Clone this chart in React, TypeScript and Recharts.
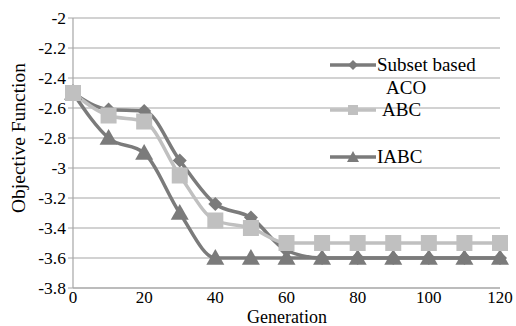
import React from "react";
import {
	LineChart,
	Line,
	XAxis,
	YAxis,
	CartesianGrid,
} from "recharts";

const generations = [0, 10, 20, 30, 40, 50, 60, 70, 80, 90, 100, 110, 120];
const subsetAco = [-2.5, -2.61, -2.62, -2.95, -3.24, -3.33, -3.55, -3.6, -3.6, -3.6, -3.6, -3.6, -3.6];
const abc = [-2.5, -2.65, -2.69, -3.05, -3.35, -3.4, -3.5, -3.5, -3.5, -3.5, -3.5, -3.5, -3.5];
const iabc = [-2.5, -2.8, -2.9, -3.3, -3.6, -3.6, -3.6, -3.6, -3.6, -3.6, -3.6, -3.6, -3.6];
const yTicks = [-3.8, -3.6, -3.4, -3.2, -3, -2.8, -2.6, -2.4, -2.2, -2];
const xTicks = [0, 20, 40, 60, 80, 100, 120];

const data = generations.map((g, i) => ({
	gen: g,
	aco: subsetAco[i],
	abc: abc[i],
	iabc: iabc[i],
}));

const DARK = "#7b7b7b";
const LIGHT = "#c0c0c0";
const FONT = "Liberation Serif, Times New Roman, serif";

const Diamond = (props: any) => {
	const { cx, cy } = props;
	if (cx == null || cy == null) return null;
	const r = 7;
	return (
		<polygon
			key={`d-${cx}`}
			points={`${cx},${cy - r} ${cx + r},${cy} ${cx},${cy + r} ${cx - r},${cy}`}
			fill={DARK}
		/>
	);
};

const Square = (props: any) => {
	const { cx, cy } = props;
	if (cx == null || cy == null) return null;
	const s = 8;
	return <rect key={`s-${cx}`} x={cx - s} y={cy - s} width={s * 2} height={s * 2} fill={LIGHT} />;
};

const Triangle = (props: any) => {
	const { cx, cy } = props;
	if (cx == null || cy == null) return null;
	const r = 9;
	return (
		<polygon
			key={`t-${cx}`}
			points={`${cx},${cy - r} ${cx + r},${cy + r * 0.75} ${cx - r},${cy + r * 0.75}`}
			fill={DARK}
		/>
	);
};

// legend drawn over the plot, like the excel one
const legendItems = [
	{ label: "Subset based", color: DARK, shape: "diamond", top: 55 },
	{ label: "ABC", color: LIGHT, shape: "square", top: 100 },
	{ label: "IABC", color: DARK, shape: "triangle", top: 147 },
];

const LegendBox = () => (
	<div style={{ position: "absolute", left: 0, top: 0, fontFamily: FONT, fontSize: 19, color: "#000", lineHeight: "20px" }}>
		{legendItems.map((it, i) => (
			<div key={i} style={{ position: "absolute", left: 330, top: it.top, display: "flex", alignItems: "center", whiteSpace: "nowrap" }}>
				<svg width={46} height={12}>
					<line x1={0} y1={6} x2={46} y2={6} stroke={it.color} strokeWidth={3.5} />
					{it.shape === "diamond" && <polygon points="23,1 28,6 23,11 18,6" fill={it.color} />}
					{it.shape === "square" && <rect x={18} y={1} width={10} height={10} fill={it.color} />}
					{it.shape === "triangle" && <polygon points="23,0 29,11 17,11" fill={it.color} />}
				</svg>
				<span style={{ marginLeft: i === 1 ? 6 : 1 }}>{it.label}</span>
			</div>
		))}
		<div style={{ position: "absolute", left: 386, top: 78 }}>ACO</div>
	</div>
);

const YLabel = () => (
	<text
		x={18}
		y={138}
		transform="rotate(-90 18 138)"
		textAnchor="middle"
		dominantBaseline="central"
		fill="#000"
		fontFamily={FONT}
		fontSize={19.5}>
		Objective Function
	</text>
);

const XLabel = () => (
	<text
		x={287}
		y={317}
		textAnchor="middle"
		dominantBaseline="central"
		fill="#000"
		fontFamily={FONT}
		fontSize={18}>
		Generation
	</text>
);

const App = () => {
	return (
		<div style={{ position: "absolute", left: 0, top: 0, width: 516, height: 326, background: "#fff", fontFamily: FONT }}>
			<LineChart
				width={516}
				height={326}
				data={data}
				style={{ fontFamily: FONT }}
				margin={{ top: 18, right: 16, bottom: 6, left: 10 }}>
				<CartesianGrid vertical={false} stroke="#a6a6a6" strokeWidth={1.2} />
				<XAxis
					dataKey="gen"
					type="number"
					domain={[0, 120]}
					ticks={xTicks}
					tickLine={false}
					axisLine={{ stroke: "#a6a6a6", strokeWidth: 1.2 }}
					tick={{ fill: "#000", fontFamily: FONT, fontSize: 17 }}
					tickMargin={-3}
					height={32}
					label={<XLabel />}
				/>
				<YAxis
					type="number"
					domain={[-3.8, -2]}
					ticks={yTicks}
					interval={0}
					width={63}
					tickLine={{ stroke: "#a6a6a6" }}
					tickSize={5}
					axisLine={{ stroke: "#a6a6a6", strokeWidth: 1.2 }}
					tick={{ fill: "#000", fontFamily: FONT, fontSize: 17.5 }}
					tickFormatter={(v: number) => `${Math.round(v * 10) / 10}`}
					label={<YLabel />}
				/>
				<Line
					dataKey="iabc"
					type="monotone"
					stroke={DARK}
					strokeWidth={3.5}
					dot={<Triangle />}
					isAnimationActive={false}
				/>
				<Line
					dataKey="aco"
					type="monotone"
					stroke={DARK}
					strokeWidth={3.5}
					dot={<Diamond />}
					isAnimationActive={false}
				/>
				<Line
					dataKey="abc"
					type="monotone"
					stroke={LIGHT}
					strokeWidth={3.5}
					dot={<Square />}
					isAnimationActive={false}
				/>
			</LineChart>
			<LegendBox />
		</div>
	);
};

export default App;
